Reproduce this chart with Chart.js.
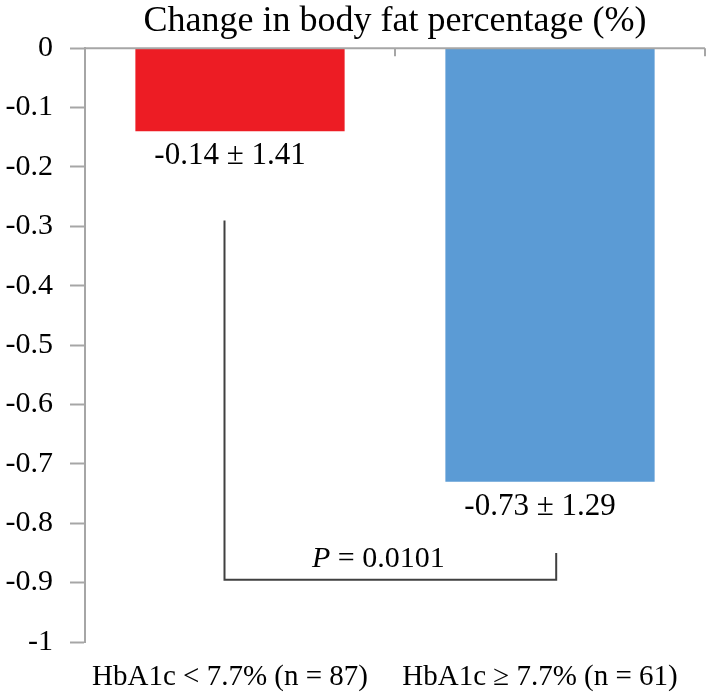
<!DOCTYPE html>
<html>
<head>
<meta charset="utf-8">
<script src="https://cdn.jsdelivr.net/npm/chart.js@4"></script>
<style>
  html, body { margin: 0; padding: 0; background: #fff; }
  #wrap { width: 711px; height: 696px; }
</style>
</head>
<body>
<div id="wrap"><canvas id="chart"></canvas></div>
<script>
// ------------------------
// Data
// ------------------------
const categories = ['HbA1c < 7.7% (n = 87)', 'HbA1c \u2265 7.7% (n = 61)'];
const meanChange = [-0.14, -0.73];
const sdChange = [1.41, 1.29];
const yMin = -1;
const yMax = 0;
const yStep = 0.1;
const pValue = '0.0101';
// bracket ends (category units) and heights (axis units)
const bracketX = [-0.05, 1.02];
const bracketLeftTop = -0.29;
const bracketRightTop = -0.85;
const bracketBottom = -0.895;

const barColors = ['#ED1C24', '#5B9BD5'];
const axisGray = '#A6A6A6';
const serif = "'Liberation Serif', 'Times New Roman', serif";

// draws zero line with downward tick marks, value labels, and the P bracket
const annotations = {
  id: 'annotations',
  afterDatasetsDraw(chart) {
    const { ctx, chartArea } = chart;
    const x = chart.scales.x, y = chart.scales.y;

    // zero line + category boundary ticks
    const y0 = y.getPixelForValue(0);
    ctx.save();
    ctx.strokeStyle = axisGray;
    ctx.lineWidth = 2;
    ctx.beginPath();
    ctx.moveTo(chartArea.left, y0);
    ctx.lineTo(chartArea.right, y0);
    const bounds = [chartArea.left,
      (x.getPixelForValue(0) + x.getPixelForValue(1)) / 2,
      chartArea.right];
    bounds.forEach(bx => {
      ctx.moveTo(bx, y0);
      ctx.lineTo(bx, y0 + 8);
    });
    ctx.stroke();

    // bar value labels
    ctx.fillStyle = '#000';
    ctx.font = `31px ${serif}`;
    ctx.textAlign = 'center';
    ctx.textBaseline = 'middle';
    chart.getDatasetMeta(0).data.forEach((bar, i) => {
      const txt = `${meanChange[i].toFixed(2)} \u00B1 ${sdChange[i].toFixed(2)}`;
      ctx.fillText(txt, bar.x - 10, bar.y + 25);
    });

    // bracket
    const lx = x.getPixelForValue(bracketX[0]);
    const rx = x.getPixelForValue(bracketX[1]);
    const by = y.getPixelForValue(bracketBottom);
    ctx.strokeStyle = '#404040';
    ctx.lineWidth = 2;
    ctx.beginPath();
    ctx.moveTo(lx, y.getPixelForValue(bracketLeftTop));
    ctx.lineTo(lx, by);
    ctx.lineTo(rx, by);
    ctx.lineTo(rx, y.getPixelForValue(bracketRightTop));
    ctx.stroke();

    // P value
    const italic = `italic 30px ${serif}`;
    const normal = `30px ${serif}`;
    const rest = ` = ${pValue}`;
    ctx.font = italic;
    const wP = ctx.measureText('P').width;
    ctx.font = normal;
    const wR = ctx.measureText(rest).width;
    const startX = (lx + rx) / 2 - 12 - (wP + wR) / 2;
    ctx.textAlign = 'left';
    ctx.textBaseline = 'alphabetic';
    ctx.font = italic;
    ctx.fillText('P', startX, by - 13);
    ctx.font = normal;
    ctx.fillText(rest, startX + wP, by - 13);
    ctx.restore();
  }
};

new Chart(document.getElementById('chart'), {
  type: 'bar',
  data: {
    labels: categories,
    datasets: [{
      data: meanChange,
      backgroundColor: barColors,
      borderWidth: 0,
      barPercentage: 0.675,
      categoryPercentage: 1
    }]
  },
  options: {
    responsive: true,
    maintainAspectRatio: false,
    animation: false,
    layout: { padding: { left: 0, right: 6, top: 0, bottom: 0 } },
    plugins: {
      legend: { display: false },
      tooltip: { enabled: false },
      title: {
        display: true,
        text: 'Change in body fat percentage (%)',
        color: '#000',
        fullSize: false,
        font: { family: serif, size: 36, weight: 'normal' },
        padding: { top: 0, bottom: 5 }
      }
    },
    scales: {
      x: {
        grid: { display: false, drawTicks: false },
        border: { display: false },
        ticks: {
          color: '#000',
          font: { family: serif, size: 29 },
          padding: 18,
          maxRotation: 0,
          autoSkip: false,
          labelOffset: -10
        },
        afterFit: s => { s.height = 54; }
      },
      y: {
        min: yMin,
        max: yMax,
        grid: {
          drawOnChartArea: false,
          tickLength: 15,
          tickColor: axisGray,
          tickWidth: 2
        },
        border: { color: axisGray, width: 2 },
        ticks: {
          stepSize: yStep,
          color: '#000',
          font: { family: serif, size: 30 },
          padding: 17,
          callback: v => String(Number(v.toFixed(1)))
        },
        afterFit: s => { s.width = 85; }
      }
    }
  },
  plugins: [annotations]
});
</script>
</body>
</html>
